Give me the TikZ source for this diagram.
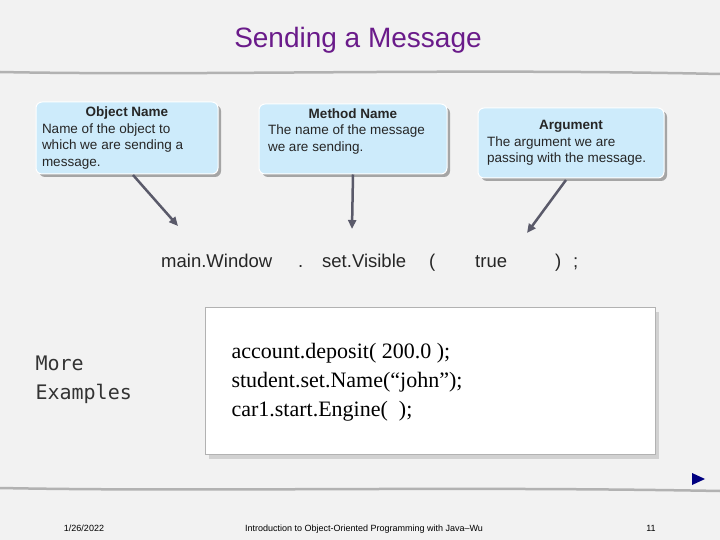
\documentclass[tikz,border=0pt]{standalone}
\usepackage{fontspec}
\setmainfont{Liberation Sans}
\newfontfamily\serifx{Liberation Serif}
\newfontfamily\monox{DejaVu Sans Mono}
\usetikzlibrary{arrows.meta,shadows}
\definecolor{bg}{HTML}{F2F2F2}
\definecolor{boxfill}{HTML}{CDEBFB}
\definecolor{titlec}{HTML}{6A1B8A}
\definecolor{arr}{HTML}{5A5A6A}
\tikzset{
 callout/.style={draw=white,line width=1pt,fill=boxfill,rounded corners=6pt,drop shadow={fill=gray!70!black,shadow xshift=3pt,shadow yshift=-3pt},inner sep=3pt},
 body/.style={font=\fontsize{13.5}{16.5}\selectfont,text=black!85},
 pt/.style={-{Triangle[length=9pt,width=8pt]},draw=arr,line width=2.5pt},
 code/.style={font=\serifx\fontsize{22}{24}\selectfont,anchor=base west},
 rule/.style={draw=gray!60,line width=2.5pt},
 foot/.style={font=\fontsize{9}{10}\selectfont,anchor=base}
}
\begin{document}
\begin{tikzpicture}[x=1pt,y=-1pt]
\useasboundingbox (0,0) rectangle (720,540);
\fill[bg] (0,0) rectangle (720,540);
\node[font=\fontsize{28}{32}\selectfont,text=titlec] (title) at (358,40) {Sending a Message};
\draw[rule] (0,72) .. controls (200,76) and (450,68) .. (720,74);
\draw[rule] (0,488) .. controls (200,492) and (450,486) .. (720,491);
\node[callout,minimum width=182pt,minimum height=72pt,body,align=left] (on) at (127,138)
 {\makebox[170pt]{\textbf{Object Name}}\\Name of the object to\\which we are sending a\\message.};
\node[callout,minimum width=188pt,minimum height=70pt,body,align=left] (mn) at (353,139)
 {\makebox[170pt]{\textbf{Method Name}}\\The name of the message\\we are sending.\\[2pt]};
\node[callout,minimum width=186pt,minimum height=70pt,body,align=left] (ar) at (571,143)
 {\makebox[168pt]{\textbf{Argument}}\\The argument we are\\passing with the message.};
\coordinate (t1) at (178,226);
\coordinate (t2) at (352,229);
\coordinate (t3) at (527,233);
\draw[pt] (133,175) -- (t1);
\draw[pt] (mn.south) -- (t2);
\draw[pt] (566,180) -- (t3);
\begin{scope}[every node/.style={font=\fontsize{18.5}{20}\selectfont,anchor=base west,text=black!85,inner sep=0pt}]
\node (w1) at (161,267) {main.Window};
\node (w2) at (298,267) {.};
\node (w3) at (322,267) {set.Visible};
\node (w4) at (429,267) {(};
\node (w5) at (475,267) {true};
\node (w6) at (555,267) {)};
\node (w7) at (573,267) {;};
\end{scope}
\node[fill=white,draw=gray!60,minimum width=450pt,minimum height=147pt,drop shadow={fill=gray!60,shadow xshift=4pt,shadow yshift=-4pt}] (cb) at (430,381) {};
\node[code] (c1) at (228,358) {account.deposit( 200.0 );};
\node[code] (c2) at (228,387) {student.set.Name(“john”);};
\node[code] (c3) at (228,416) {car1.start.Engine(\ \ );};
\node[align=left,font=\monox\fontsize{20}{29}\selectfont,text=black!80,anchor=west] (me) at (32,380) {More\\Examples};
\fill[blue!50!black] (692,473) -- (705,479) -- (692,485) -- cycle;
\node[foot] (d) at (84,531) {1/26/2022};
\node[foot] (f) at (364,531) {Introduction to Object-Oriented Programming with Java--Wu};
\node[foot] (n) at (651,531) {11};
\end{tikzpicture}
\end{document}
